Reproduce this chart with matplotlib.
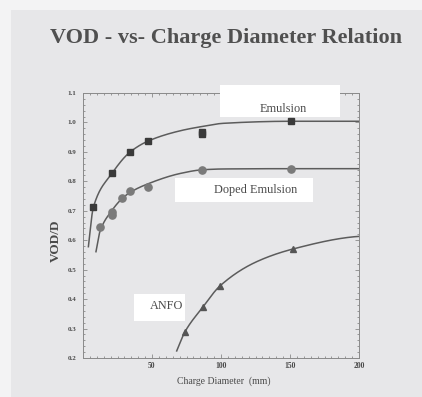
import numpy as np
import matplotlib
matplotlib.use("Agg")
import matplotlib.pyplot as plt
from matplotlib.patches import Rectangle
from matplotlib.ticker import MultipleLocator, FixedLocator

# Measured detonation velocity ratio (VOD/D) vs charge diameter (mm)
emulsion_x = [7.5, 21, 34, 47.3, 86, 86, 151]
emulsion_y = [0.712, 0.827, 0.899, 0.937, 0.960, 0.966, 1.004]

doped_x = [12.3, 20.8, 20.8, 28, 34, 47.3, 86, 151]
doped_y = [0.644, 0.686, 0.697, 0.742, 0.767, 0.782, 0.839, 0.842]

anfo_x = [73.9, 86.7, 99.3, 152]
anfo_y = [0.289, 0.372, 0.445, 0.570]

# Trend curves traced through each series
emulsion_fit_x = [3.9, 7.5, 21, 34, 47.3, 70.7, 86, 101.6, 151, 200]
emulsion_fit_y = [0.578, 0.712, 0.827, 0.899, 0.937, 0.972, 0.986, 0.997, 1.004, 1.004]

doped_fit_x = [9.4, 12.3, 20.8, 28, 34, 47.3, 70.7, 86, 101.6, 151, 200]
doped_fit_y = [0.561, 0.630, 0.700, 0.740, 0.762, 0.792, 0.827, 0.839, 0.842, 0.843, 0.843]

anfo_fit_x = [67.9, 73.9, 86.7, 99.3, 125.8, 152, 197, 200]
anfo_fit_y = [0.224, 0.289, 0.372, 0.445, 0.527, 0.570, 0.612, 0.613]

x_ticks = [50, 100, 150, 200]
y_ticks = [0.2, 0.3, 0.4, 0.5, 0.6, 0.7, 0.8, 0.9, 1.0, 1.1]


def pchip(xk, yk, n=300):
    """Monotone cubic (Fritsch-Carlson) smoothing through the given knots."""
    xk = np.asarray(xk, float)
    yk = np.asarray(yk, float)
    h = np.diff(xk)
    d = np.diff(yk) / h
    m = np.zeros_like(yk)
    m[0], m[-1] = d[0], d[-1]
    for i in range(1, len(xk) - 1):
        if d[i - 1] * d[i] <= 0:
            m[i] = 0.0
        else:
            w1 = 2 * h[i] + h[i - 1]
            w2 = h[i] + 2 * h[i - 1]
            m[i] = (w1 + w2) / (w1 / d[i - 1] + w2 / d[i])
    xs = np.linspace(xk[0], xk[-1], n)
    idx = np.clip(np.searchsorted(xk, xs) - 1, 0, len(xk) - 2)
    t = (xs - xk[idx]) / h[idx]
    h00 = 2 * t**3 - 3 * t**2 + 1
    h10 = t**3 - 2 * t**2 + t
    h01 = -2 * t**3 + 3 * t**2
    h11 = t**3 - t**2
    ys = (h00 * yk[idx] + h10 * h[idx] * m[idx]
          + h01 * yk[idx + 1] + h11 * h[idx] * m[idx + 1])
    return xs, ys


W, H = 422, 397
fig = plt.figure(figsize=(W / 100, H / 100), dpi=100)
fig.patch.set_facecolor("#f3f3f4")
panel = Rectangle((11 / W, 0), 1 - 11 / W, 1 - 10 / H,
                  transform=fig.transFigure, facecolor="#e7e7e9",
                  edgecolor="none", zorder=-10)
fig.add_artist(panel)

serif = ["Liberation Serif", "DejaVu Serif"]
text_col = "#4a4a4a"

fig.text(226 / W, 1 - 43 / H, "VOD - vs- Charge Diameter Relation",
         family=serif, fontsize=16, fontweight="bold", color="#505050",
         ha="center", va="baseline")

ax = fig.add_axes([83 / W, 1 - 358 / H, (359 - 83) / W, (358 - 93) / H])
ax.set_zorder(1)
ax.set_facecolor("none")
ax.set_xlim(0, 200)
ax.set_ylim(0.2, 1.1)

line_col = "#5c5c5c"
for fx, fy in [(emulsion_fit_x, emulsion_fit_y),
               (doped_fit_x, doped_fit_y),
               (anfo_fit_x, anfo_fit_y)]:
    xs, ys = pchip(fx, fy)
    ax.plot(xs, ys, color=line_col, lw=1.1, zorder=2)

ax.plot(emulsion_x, emulsion_y, ls="none", marker="s", ms=4.3,
        color="#3a3a3a", zorder=3)
ax.plot(doped_x, doped_y, ls="none", marker="o", ms=5.2,
        color="#7a7a7a", zorder=3)
ax.plot(anfo_x, anfo_y, ls="none", marker="^", ms=4.0,
        color="#555555", zorder=3)

# White label boxes
labels = [
    ("Emulsion", (99.3, 1.019), 86.9, 0.108, (145, 1.046)),
    ("Doped Emulsion", (66.7, 0.730), 100.0, 0.081, (125.4, 0.771)),
    ("ANFO", (37.0, 0.326), 36.9, 0.091, (60.9, 0.377)),
]
for txt, xy, w, h, pos in labels:
    ax.add_patch(Rectangle(xy, w, h, facecolor="white", edgecolor="none",
                           zorder=4, clip_on=False))
    ax.text(pos[0], pos[1], txt, family=serif, fontsize=8.8, color=text_col,
            ha="center", va="center", zorder=5)

ax.xaxis.set_major_locator(FixedLocator(x_ticks))
ax.yaxis.set_major_locator(FixedLocator(y_ticks))
ax.xaxis.set_minor_locator(MultipleLocator(5))
ax.yaxis.set_minor_locator(MultipleLocator(0.02))
ax.set_xticklabels([str(v) for v in x_ticks])
ax.set_yticklabels([f"{v:.1f}" for v in y_ticks])

ax.tick_params(which="both", direction="in", top=True, right=True,
               color="#8a8a8a", width=0.6)
ax.tick_params(which="major", length=3)
ax.tick_params(which="minor", length=1.5)
ax.tick_params(axis="x", pad=3, labelsize=5.5, labelcolor=text_col)
ax.tick_params(axis="y", pad=5, labelsize=5.0, labelcolor=text_col)
for lab in ax.get_xticklabels() + ax.get_yticklabels():
    lab.set_family(serif)
    lab.set_fontweight("bold")

for sp in ax.spines.values():
    sp.set_color("#8a8a8a")
    sp.set_linewidth(0.7)
    sp.set_linestyle((0, (2, 1)))

fig.text(56 / W, 1 - 241 / H, "VOD/D", family=serif, fontsize=9.5,
         fontweight="bold", color=text_col, rotation=90,
         ha="center", va="center")
fig.text(223.5 / W, 1 - 381 / H, "Charge Diameter  (mm)", family=serif,
         fontsize=7, color=text_col, ha="center", va="center")

fig.savefig("out.png", dpi=100)
